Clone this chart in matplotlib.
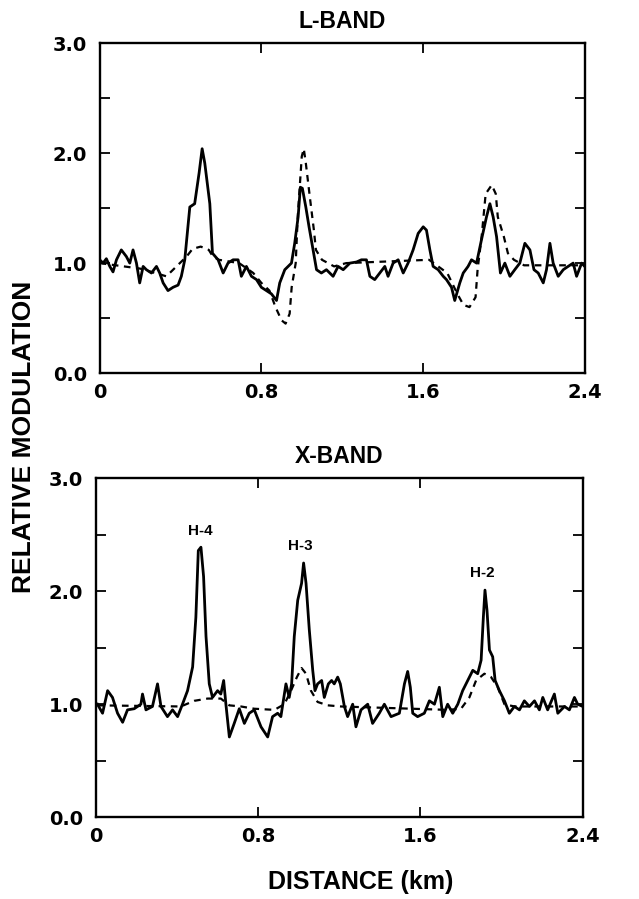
import numpy as np
import matplotlib
matplotlib.use("Agg")
import matplotlib.pyplot as plt
from matplotlib.ticker import MultipleLocator

# L-band, measured (solid)
l_x = [0.000, 0.017, 0.033, 0.050, 0.066, 0.083, 0.107, 0.132, 0.149, 0.165,
       0.182, 0.198, 0.215, 0.231, 0.256, 0.281, 0.297, 0.314, 0.338, 0.363,
       0.388, 0.404, 0.421, 0.446, 0.470, 0.492, 0.507, 0.520, 0.545, 0.558,
       0.586, 0.611, 0.635, 0.660, 0.685, 0.701, 0.726, 0.751, 0.776, 0.800,
       0.825, 0.850, 0.875, 0.891, 0.916, 0.949, 0.965, 0.982, 0.993, 1.003,
       1.020, 1.036, 1.056, 1.073, 1.097, 1.122, 1.155, 1.180, 1.205, 1.238,
       1.271, 1.295, 1.320, 1.337, 1.361, 1.386, 1.411, 1.427, 1.452, 1.477,
       1.502, 1.526, 1.551, 1.576, 1.601, 1.617, 1.634, 1.650, 1.675, 1.700,
       1.716, 1.741, 1.757, 1.782, 1.799, 1.823, 1.840, 1.865, 1.889, 1.914,
       1.931, 1.947, 1.964, 1.983, 2.005, 2.030, 2.054, 2.079, 2.104, 2.129,
       2.149, 2.170, 2.195, 2.211, 2.228, 2.244, 2.269, 2.294, 2.318, 2.343,
       2.360, 2.385, 2.400]
l_y = [1.03, 1.00, 1.04, 0.97, 0.92, 1.03, 1.12, 1.06, 1.00, 1.12,
       1.00, 0.82, 0.97, 0.94, 0.91, 0.97, 0.91, 0.82, 0.75, 0.78,
       0.80, 0.88, 1.03, 1.51, 1.54, 1.82, 2.04, 1.91, 1.54, 1.09,
       1.03, 0.91, 1.00, 1.03, 1.03, 0.88, 0.97, 0.88, 0.85, 0.78,
       0.75, 0.72, 0.66, 0.82, 0.94, 1.00, 1.18, 1.42, 1.69, 1.68,
       1.51, 1.33, 1.12, 0.94, 0.91, 0.94, 0.88, 0.97, 0.94, 1.00,
       1.01, 1.03, 1.03, 0.88, 0.85, 0.91, 0.97, 0.88, 1.00, 1.03,
       0.91, 1.00, 1.12, 1.27, 1.33, 1.30, 1.12, 0.97, 0.94, 0.88,
       0.85, 0.78, 0.66, 0.82, 0.91, 0.97, 1.03, 1.00, 1.21, 1.42,
       1.54, 1.42, 1.24, 0.91, 1.00, 0.88, 0.94, 1.00, 1.18, 1.12,
       0.94, 0.91, 0.82, 0.94, 1.18, 1.00, 0.88, 0.94, 0.97, 1.00,
       0.88, 1.00, 0.97]

# L-band, model (dashed)
lm_x = [0.00, 0.20, 0.33, 0.43, 0.46, 0.50, 0.54, 0.56, 0.59, 0.69,
        0.76, 0.80, 0.84, 0.87, 0.90, 0.92, 0.94, 0.95, 0.97, 0.98,
        1.00, 1.01, 1.02, 1.04, 1.06, 1.07, 1.10, 1.16, 1.22, 1.63,
        1.72, 1.77, 1.80, 1.83, 1.86, 1.87, 1.89, 1.91, 1.94, 1.96,
        1.97, 2.00, 2.02, 2.05, 2.10, 2.40]
lm_y = [1.00, 0.95, 0.88, 1.06, 1.13, 1.15, 1.12, 1.06, 1.03, 1.00,
        0.91, 0.82, 0.75, 0.60, 0.48, 0.45, 0.54, 0.78, 1.00, 1.42,
        1.97, 2.04, 1.91, 1.60, 1.30, 1.12, 1.03, 0.97, 1.00, 1.03,
        0.91, 0.72, 0.62, 0.60, 0.69, 0.94, 1.24, 1.63, 1.71, 1.63,
        1.42, 1.24, 1.09, 1.03, 0.98, 0.98]

# X-band, measured (solid)
x_x = [0.008, 0.033, 0.058, 0.082, 0.107, 0.132, 0.156, 0.189, 0.222, 0.230,
       0.247, 0.279, 0.304, 0.321, 0.353, 0.378, 0.403, 0.427, 0.452, 0.477,
       0.493, 0.505, 0.518, 0.531, 0.543, 0.559, 0.575, 0.600, 0.616, 0.630,
       0.641, 0.658, 0.682, 0.707, 0.732, 0.756, 0.781, 0.814, 0.847, 0.871,
       0.896, 0.912, 0.937, 0.953, 0.965, 0.978, 0.995, 1.014, 1.024, 1.036,
       1.052, 1.069, 1.080, 1.093, 1.113, 1.126, 1.146, 1.162, 1.175, 1.192,
       1.205, 1.225, 1.241, 1.266, 1.282, 1.307, 1.340, 1.364, 1.397, 1.422,
       1.455, 1.496, 1.521, 1.537, 1.550, 1.562, 1.586, 1.619, 1.644, 1.669,
       1.693, 1.710, 1.734, 1.759, 1.784, 1.808, 1.833, 1.858, 1.882, 1.899,
       1.910, 1.918, 1.928, 1.940, 1.956, 1.968, 1.989, 2.014, 2.038, 2.063,
       2.088, 2.112, 2.137, 2.162, 2.186, 2.203, 2.227, 2.260, 2.277, 2.310,
       2.334, 2.359, 2.375, 2.400]
x_y = [1.00, 0.92, 1.12, 1.06, 0.92, 0.84, 0.95, 0.96, 1.00, 1.09,
       0.95, 0.98, 1.18, 0.98, 0.89, 0.95, 0.89, 1.00, 1.12, 1.33,
       1.77, 2.36, 2.39, 2.13, 1.60, 1.18, 1.06, 1.12, 1.09, 1.21,
       1.00, 0.71, 0.83, 0.96, 0.83, 0.92, 0.95, 0.80, 0.71, 0.89,
       0.92, 0.89, 1.18, 1.06, 1.18, 1.60, 1.92, 2.07, 2.25, 2.07,
       1.66, 1.30, 1.12, 1.18, 1.21, 1.06, 1.18, 1.21, 1.18, 1.24,
       1.18, 0.98, 0.89, 1.00, 0.80, 0.95, 1.00, 0.83, 0.92, 1.00,
       0.89, 0.92, 1.18, 1.29, 1.15, 0.92, 0.89, 0.92, 1.03, 1.00,
       1.15, 0.89, 1.00, 0.92, 1.00, 1.12, 1.21, 1.30, 1.27, 1.39,
       1.77, 2.01, 1.83, 1.48, 1.42, 1.21, 1.12, 1.03, 0.92, 0.98,
       0.95, 1.03, 0.98, 1.03, 0.95, 1.06, 0.95, 1.09, 0.92, 0.98,
       0.95, 1.06, 1.00, 0.98]

# X-band, model (dashed)
xm_x = [0.008, 0.419, 0.485, 0.551, 0.616, 0.658, 0.715, 0.781, 0.880, 0.929,
        0.962, 0.991, 1.014, 1.036, 1.060, 1.093, 1.143, 1.208, 1.734, 1.800,
        1.841, 1.874, 1.915, 1.948, 1.981, 2.014, 2.063, 2.400]
xm_y = [0.99, 0.98, 1.03, 1.05, 1.05, 0.99, 0.98, 0.96, 0.95, 1.00,
        1.12, 1.24, 1.32, 1.27, 1.12, 1.02, 0.99, 0.98, 0.95, 0.96,
        1.06, 1.21, 1.27, 1.24, 1.15, 1.00, 0.98, 0.98]

peak_names = ["H-4", "H-3", "H-2"]
peak_x = [0.515, 1.01, 1.907]
peak_y = [2.53, 2.40, 2.16]

xticks = [0, 0.8, 1.6, 2.4]
xtick_labels = ["0", "0.8", "1.6", "2.4"]
yticks = [0, 1, 2, 3]
ytick_labels = ["0.0", "1.0", "2.0", "3.0"]

plt.rcParams['font.family'] = ['Liberation Sans', 'DejaVu Sans']

fig = plt.figure(figsize=(6.39, 8.99), dpi=100)
ax1 = fig.add_axes([0.156, 0.585, 0.759, 0.367])
ax2 = fig.add_axes([0.150, 0.091, 0.762, 0.377])

def style(ax, title):
    ax.set_xlim(0, 2.4)
    ax.set_ylim(0, 3)
    ax.set_xticks(xticks)
    ax.set_xticklabels(xtick_labels)
    ax.set_yticks(yticks)
    ax.set_yticklabels(ytick_labels)
    ax.yaxis.set_minor_locator(MultipleLocator(0.5))
    ax.tick_params(which='both', direction='in', top=True, right=True,
                   length=7, width=1.3)
    ax.tick_params(axis='x', pad=7)
    ax.tick_params(axis='y', pad=9)
    for lab in ax.get_xticklabels() + ax.get_yticklabels():
        lab.set_fontfamily('DejaVu Sans')
        lab.set_fontweight('bold')
        lab.set_fontsize(14)
    for sp in ax.spines.values():
        sp.set_linewidth(1.7)
    ax.set_title(title, fontsize=16.5, fontweight='bold', pad=11)

ax1.plot(l_x, l_y, color='black', lw=2.0)
ax1.plot(lm_x, lm_y, color='black', lw=1.6, ls=(0, (3, 2.5)))
style(ax1, "L-BAND")

ax2.plot(x_x, x_y, color='black', lw=2.0)
ax2.plot(xm_x, xm_y, color='black', lw=1.6, ls=(0, (3, 2.5)))
for name, px, py in zip(peak_names, peak_x, peak_y):
    ax2.text(px, py, name, ha='center', va='center', fontsize=11,
             fontweight='bold')
style(ax2, "X-BAND")

fig.text(24 / 639, 1 - 437 / 899, "RELATIVE MODULATION", rotation=90,
         ha='center', va='center', fontsize=19, fontweight='bold')
fig.text(361 / 639, 1 - 882 / 899, "DISTANCE (km)", ha='center', va='center',
         fontsize=18, fontweight='bold')

fig.savefig("out.png", dpi=100)
